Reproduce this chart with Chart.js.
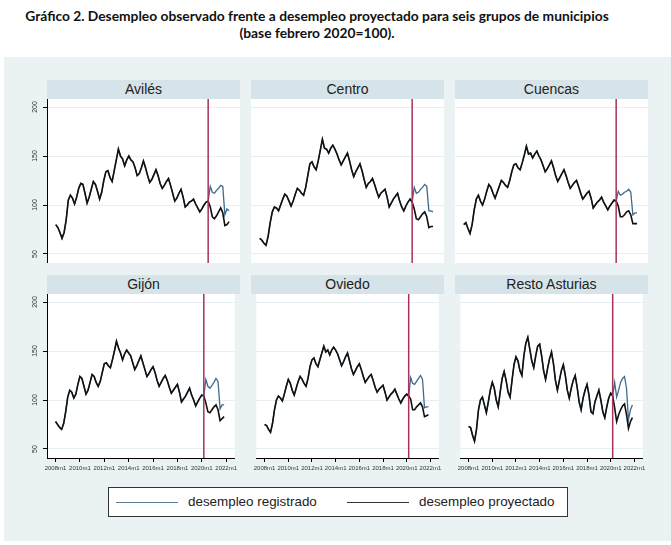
<!DOCTYPE html>
<html><head><meta charset="utf-8">
<script src="https://cdn.jsdelivr.net/npm/chart.js@4.4.1/dist/chart.umd.min.js"></script>
<style>
body{margin:0;background:#fff;width:671px;height:545px;overflow:hidden;position:relative;font-family:"Liberation Sans",Arial,sans-serif;}
.title{position:absolute;left:0;width:634px;text-align:center;font-family:Lato,"Open Sans",sans-serif;font-weight:bold;font-size:13.8px;line-height:16px;color:#111;white-space:nowrap;}
#bg{position:absolute;left:4px;top:57px;width:667px;height:484px;background:#eaf2f3;}
.strip{position:absolute;height:19px;background:#d6e3e8;text-align:center;font-size:14px;line-height:19px;color:#222;font-family:"Liberation Sans",Arial,sans-serif;font-weight:normal;}
.panel{position:absolute;}
#legend{position:absolute;left:108px;top:487px;width:458px;height:28px;background:#fff;border:1px solid #333;}
.sw{position:absolute;top:14px;height:0;border-top:1.8px solid;}
.lt{position:absolute;top:6px;font-size:13.4px;line-height:16px;color:#222;white-space:nowrap;font-family:"Liberation Sans",Arial,sans-serif;}
</style></head>
<body>
<div class="title" style="top:8px">Gráfico 2. Desempleo observado frente a desempleo proyectado para seis grupos de municipios</div>
<div class="title" style="top:25px">(base febrero 2020=100).</div>
<div id="bg"></div>
<div id="root"></div>
<div id="legend">
  <div class="sw" style="left:7px;width:62px;border-color:#5a7b96"></div>
  <div class="lt" style="left:79px">desempleo registrado</div>
  <div class="sw" style="left:238px;width:62px;border-color:#333"></div>
  <div class="lt" style="left:310px">desempleo proyectado</div>
</div>
<script>
// ---- data: bimonthly (m1,m3,m5,m7,m9,m11) from 2008m1 to 2021m11, base Feb 2020 = 100
const STEP_MONTHS = 2;
const SPLIT_INDEX = 74;            // first projected-only point: 2020m5
const EVENT_MONTH = 146;           // 2020m3 (months since 2008m1)
const TICK_MONTHS = [0,24,48,72,96,120,144,168];
const TICK_LABELS = ['2008m1','2010m1','2012m1','2014m1','2016m1','2018m1','2020m1','2022m1'];
const Y_TICKS = [50,100,150,200];
const PANEL_NAMES = ['Avilés','Centro','Cuencas','Gijón','Oviedo','Resto Asturias'];
const SERIES_NAMES = ['desempleo registrado','desempleo proyectado'];

const avilesObs = [80,77,72,66,72,85, 105,110,107,101,108,117, 122,121,112,102,108,116, 124,121,114,106,113,125,
 134,135,128,124,135,146, 157,150,147,140,146,150, 146,144,138,130,132,138, 145,138,130,123,126,131,
 136,130,122,117,120,124, 127,120,112,104,107,112, 116,108,98,100,103,104, 106,101,97,93,96,100,
 103,104,119,113,112,115, 117,120,119,90,96,94];
const avilesProjTail = [98,88,86,89,93,97,92,79,80,83];

const centroObs = [66,64,61,59,68,82, 93,98,97,94,100,106, 111,109,104,99,104,111, 117,115,112,110,118,130,
 142,144,139,136,145,156, 167,158,157,153,158,161, 157,152,146,141,145,149, 153,145,136,129,134,138,
 142,135,126,118,122,124, 127,121,114,108,112,114, 116,108,98,102,106,109, 112,104,98,94,99,103,
 106,103,118,112,113,116, 118,121,119,94,94,93];
const centroProjTail = [96,86,85,88,91,93,88,77,78,78];

const cuencasObs = [80,82,76,71,80,95, 106,110,104,100,106,114, 121,118,112,107,113,119, 125,123,120,118,125,134,
 141,142,138,136,143,151, 160,152,153,148,152,155, 150,146,140,134,137,141, 145,138,130,124,128,132,
 136,130,123,117,120,123, 125,119,112,106,109,112, 114,107,97,100,103,105, 108,103,99,95,99,102,
 105,104,114,110,111,113, 114,116,113,90,92,92];
const cuencasProjTail = [99,88,88,90,93,94,90,81,81,81];

const gijonObs = [78,75,72,70,76,88, 103,110,108,102,106,116, 124,122,114,106,110,118, 126,124,118,114,119,128,
 137,138,135,133,141,150, 160,153,148,141,147,151, 148,145,138,131,135,140, 145,138,131,124,127,131,
 134,128,120,114,118,122, 125,120,113,107,110,113, 116,108,98,101,104,108, 112,105,100,94,98,102,
 105,104,121,114,112,115, 118,122,119,91,95,95];
const gijonProjTail = [97,88,87,90,93,95,90,79,81,83];

const oviedoObs = [75,74,70,67,76,90, 100,104,102,99,106,114, 121,117,110,105,112,119, 124,121,117,114,122,134,
 141,143,137,134,141,148, 155,149,151,146,151,154, 151,147,141,135,139,144, 148,140,132,126,130,134,
 137,131,124,118,121,124, 126,120,113,108,111,113, 115,108,100,103,106,108, 111,106,101,97,101,104,
 106,104,123,117,116,119, 122,125,121,92,93,93];
const oviedoProjTail = [101,90,90,93,95,97,93,83,84,85];

const restoObs = [73,72,64,58,70,90, 100,103,95,87,98,110, 118,112,100,93,108,122, 129,120,108,103,120,136,
 144,140,130,125,145,158, 164,152,140,133,145,155, 157,145,130,121,132,142, 149,137,120,110,120,130,
 136,125,110,102,112,120, 125,113,98,90,102,110, 116,105,88,86,98,104, 110,100,88,82,93,102,
 107,104,118,103,110,118, 122,124,112,80,90,95];
const restoProjTail = [92,78,85,90,94,96,85,71,78,82];

const OBS = [avilesObs, centroObs, cuencasObs, gijonObs, oviedoObs, restoObs];
const PROJ_TAILS = [avilesProjTail, centroProjTail, cuencasProjTail, gijonProjTail, oviedoProjTail, restoProjTail];

// ---- layout / style
const COL_X = [47, 251, 455], ROW_Y = [99, 294];
const PLOT_W = 193, PLOT_H = 164, LEFT_AXIS_W = 28, BOTTOM_AXIS_H = 20, STRIP_H = 19;
const X_MIN = -8.4, X_MAX = 176.5, Y_MIN = 40.8, Y_MAX = 208.2;
const C_OBS = '#3f6a8d', C_PROJ = '#111111', C_EVENT = '#a8305a', C_GRID = '#e6eef0';

const toPoints = arr => arr.map((v, i) => ({x: i * STEP_MONTHS, y: v}));

const plotBg = {
  id: 'plotBg',
  beforeDraw(chart) {
    const {ctx, chartArea: a} = chart;
    ctx.save(); ctx.fillStyle = '#fff';
    ctx.fillRect(a.left, a.top, a.right - a.left, a.bottom - a.top);
    ctx.restore();
  }
};
const eventLine = {
  id: 'eventLine',
  afterDatasetsDraw(chart) {
    const {ctx, chartArea: a, scales} = chart;
    const x = scales.x.getPixelForValue(EVENT_MONTH);
    ctx.save(); ctx.strokeStyle = C_EVENT; ctx.lineWidth = 1.5;
    ctx.beginPath(); ctx.moveTo(x, a.top); ctx.lineTo(x, a.bottom); ctx.stroke();
    ctx.restore();
  }
};
const rotatedY = {
  id: 'rotatedY',
  afterDraw(chart, args, opts) {
    if (!opts.show) return;
    const {ctx, chartArea: a, scales} = chart;
    ctx.save(); ctx.fillStyle = '#333'; ctx.font = '7px "Liberation Sans", Arial, sans-serif';
    ctx.textAlign = 'center'; ctx.textBaseline = 'middle';
    Y_TICKS.forEach(v => {
      const y = scales.y.getPixelForValue(v);
      ctx.save(); ctx.translate(a.left - 12, y); ctx.rotate(-Math.PI / 2);
      ctx.fillText(String(v), 0, 0); ctx.restore();
    });
    ctx.restore();
  }
};

const root = document.getElementById('root');
PANEL_NAMES.forEach((name, p) => {
  const c = p % 3, r = Math.floor(p / 3);
  const showY = c === 0, showX = r === 1;
  const strip = document.createElement('div');
  strip.className = 'strip';
  strip.style.left = COL_X[c] + 'px'; strip.style.top = (ROW_Y[r] - STRIP_H) + 'px';
  strip.style.width = PLOT_W + 'px'; strip.textContent = name;
  root.appendChild(strip);

  const lw = showY ? LEFT_AXIS_W : 0, bh = showX ? BOTTOM_AXIS_H : 0;
  const box = document.createElement('div');
  box.className = 'panel';
  box.style.left = (COL_X[c] - lw) + 'px'; box.style.top = ROW_Y[r] + 'px';
  box.style.width = (PLOT_W + lw) + 'px'; box.style.height = (PLOT_H + bh) + 'px';
  const cv = document.createElement('canvas');
  box.appendChild(cv); root.appendChild(box);

  const obs = OBS[p];
  const proj = obs.slice(0, SPLIT_INDEX).concat(PROJ_TAILS[p]);

  new Chart(cv, {
    type: 'line',
    data: {
      datasets: [
        {label: SERIES_NAMES[0], data: toPoints(obs), borderColor: C_OBS, borderWidth: 1.3, pointRadius: 0, tension: 0, order: 2},
        {label: SERIES_NAMES[1], data: toPoints(proj), borderColor: C_PROJ, borderWidth: 1.6, pointRadius: 0, tension: 0, order: 1}
      ]
    },
    options: {
      responsive: true, maintainAspectRatio: false, animation: false,
      layout: {padding: 0},
      plugins: {legend: {display: false}, tooltip: {enabled: false}, rotatedY: {show: showY}},
      scales: {
        x: {
          type: 'linear', min: X_MIN, max: X_MAX, display: showX,
          afterBuildTicks: s => { s.ticks = TICK_MONTHS.map(v => ({value: v})); },
          afterFit: s => { s.height = bh; },
          grid: {display: true, drawOnChartArea: false, drawTicks: true, tickLength: 4, tickColor: '#000'},
          border: {display: true, color: '#000', width: 1},
          ticks: {autoSkip: false, maxRotation: 0, minRotation: 0, padding: 3, color: '#333',
                  font: {size: 6, family: '"Liberation Sans", Arial, sans-serif'},
                  callback: v => TICK_LABELS[TICK_MONTHS.indexOf(v)]}
        },
        y: {
          type: 'linear', min: Y_MIN, max: Y_MAX,
          afterBuildTicks: s => { s.ticks = Y_TICKS.map(v => ({value: v})); },
          afterFit: s => { s.width = lw; },
          grid: {color: C_GRID, lineWidth: 1, drawTicks: showY, tickLength: 4, tickColor: '#000'},
          border: {display: showY, color: '#000', width: 1},
          ticks: {display: false}
        }
      }
    },
    plugins: [plotBg, eventLine, rotatedY]
  });
});
</script>
</body></html>
